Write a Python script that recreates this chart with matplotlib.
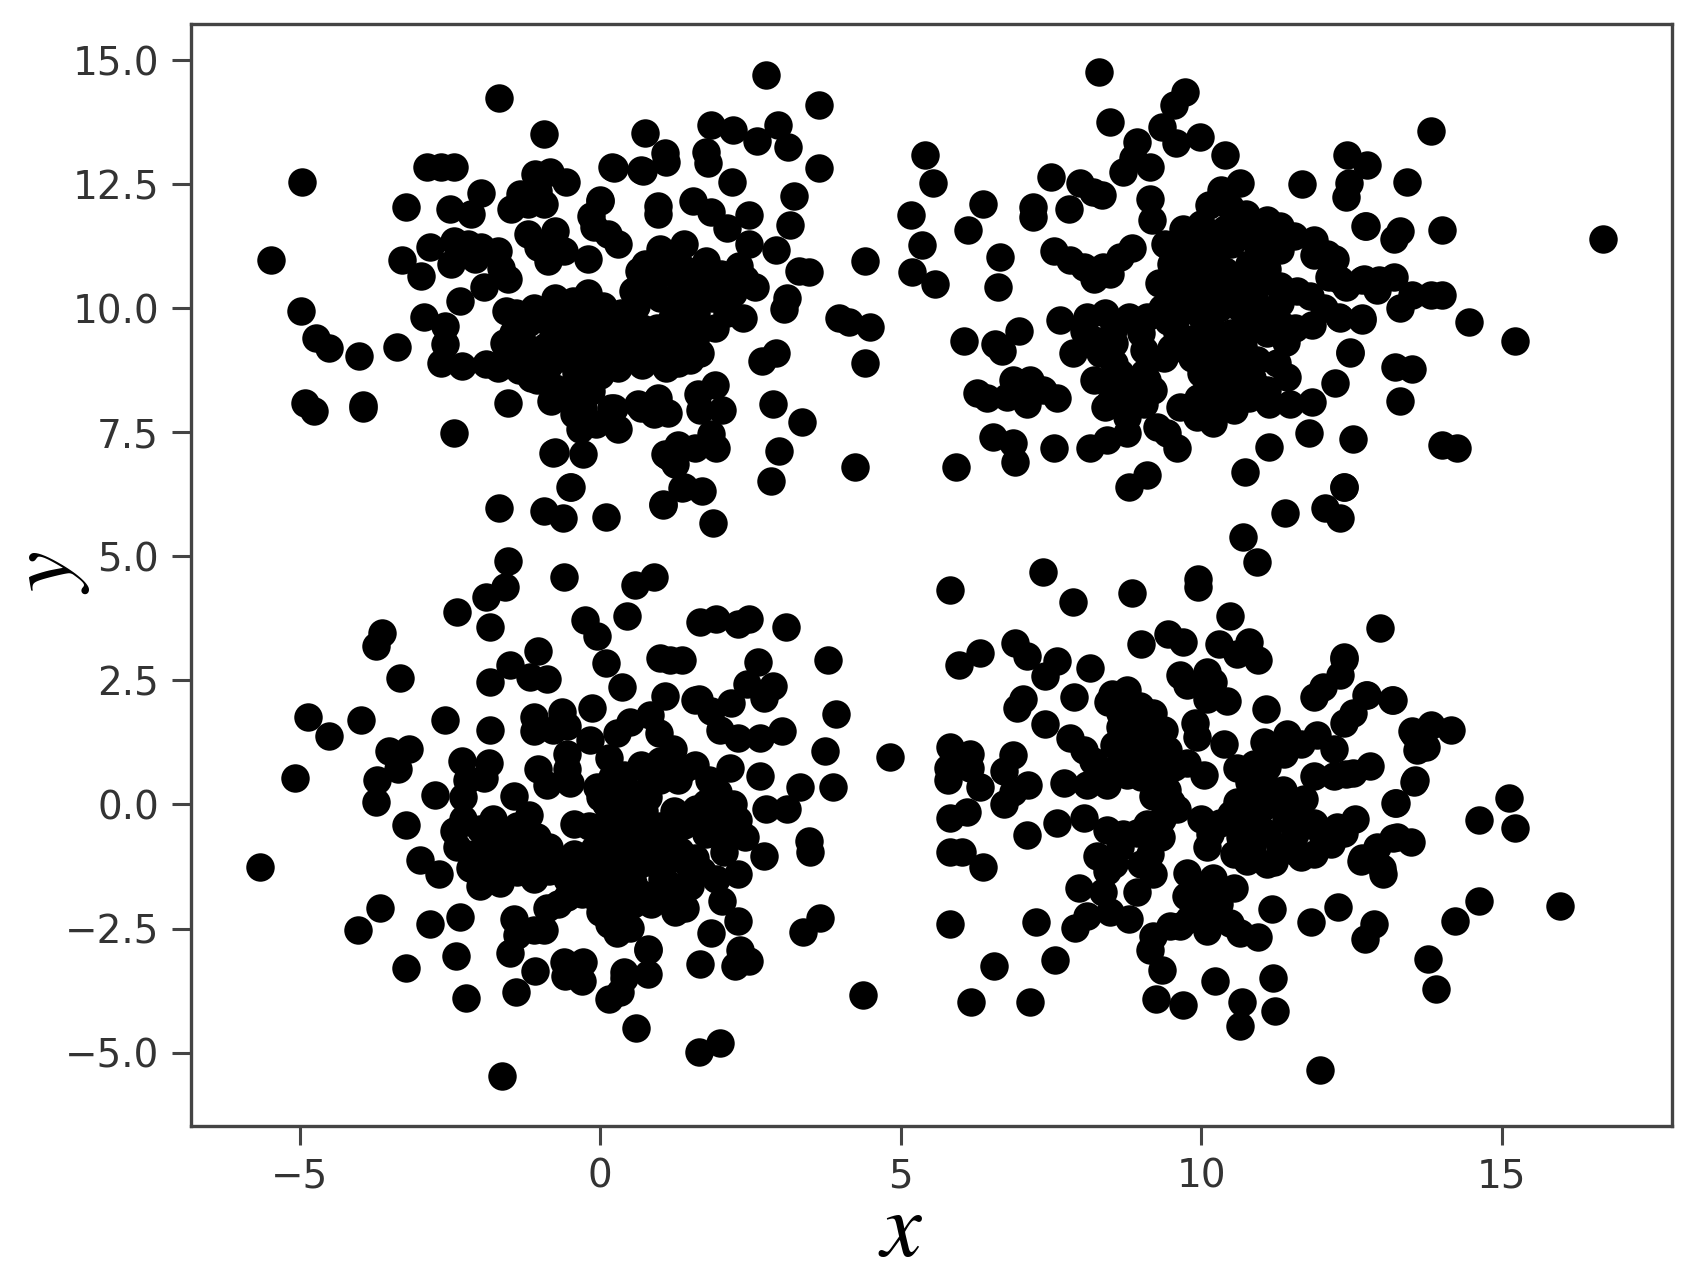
import matplotlib
matplotlib.use("Agg")
import matplotlib.pyplot as plt

x_ticks = [-5, 0, 5, 10, 15]
y_ticks = [-5.0, -2.5, 0.0, 2.5, 5.0, 7.5, 10.0, 12.5, 15.0]

top_left = [
(-1.69,14.24),(-0.94,13.51),(0.75,13.53),(1.07,13.14),(1.1,12.94),(0.71,12.77),(0.19,12.84),(-2.88,12.84),(-2.65,12.84),(-2.43,12.84),
(-4.97,12.54),(-1.98,12.32),(-3.23,12.05),(-2.5,12.0),(-2.15,11.9),(0.96,12.07),(0.96,11.9),(-0.01,12.19),(-0.15,11.87),(-1.09,12.7),
(-0.84,12.74),(-0.57,12.54),(-1.34,12.3),(-1.04,12.37),(-1.48,12.0),(-1.2,12.1),(-0.93,12.1),(-1.2,11.5),(-0.76,11.56),(-1.04,11.23),
(-0.6,11.16),(-0.87,10.96),(-0.2,11.0),(0.13,11.5),(0.29,11.3),(-0.1,11.63),(-5.48,10.97),(-3.3,10.97),(-2.98,10.66),(-2.84,11.23),
(-2.48,10.9),(-2.2,11.3),(-2.43,11.36),(-1.98,11.23),(-1.7,11.16),(-2.09,11.0),(-1.65,10.82),(-1.54,10.59),(-1.93,10.42),(-2.34,10.14),
(-2.94,9.83),(-2.59,9.65),(-4.98,9.95),(-4.73,9.41),(-4.52,9.2),(-4.02,9.04),(-3.39,9.22),(-2.59,9.28),(-2.65,8.9),(-2.3,8.84),
(-1.9,8.88),(-1.57,9.01),(-1.57,9.95),(-4.92,8.09),(-4.77,7.93),(-3.95,8.05),(-3.95,8.0),(-1.54,8.09),(-2.44,7.48),(-0.75,7.11),
(-0.29,7.06),(-0.51,6.39),(-1.69,5.98),(-0.93,5.92),(-0.62,5.78),(0.09,5.8),(1.04,6.05),(-1.15,8.6),(-0.82,8.13),(-0.43,7.87),
(-0.07,7.67),(0.29,7.57),(0.9,7.87),(0.63,8.07),(0.96,8.2),(0.18,8.0),(1.07,7.06),(1.24,6.86),(1.4,6.4),(-1.4,9.9),
(-1.2,9.7),(-1.45,9.5),(-1.6,9.3),(-1.1,10.0),(-0.75,10.2),(-0.45,10.15),(-0.2,10.3),(-0.2,10.0),(-0.5,9.85),(-0.85,9.7),
(-1.2,9.2),(-0.9,9.25),(-1.0,8.9),(-1.05,8.55),(-0.6,9.4),(-0.35,9.3),(-0.6,9.0),(-0.4,8.7),(-0.75,8.4),(-0.2,8.45),
(-0.05,9.65),(0.15,9.4),(0.3,9.0),(0.05,8.9),(0.05,10.05),(0.35,9.9),(0.6,10.05),(0.7,9.6),(0.55,9.2),(0.85,9.2),
(0.95,9.6),(1.1,9.3),(1.2,9.8),(1.0,10.2),(0.75,10.5),(0.55,10.35),(0.75,10.9),(1.0,10.7),(1.2,10.95),(1.35,10.5),
(1.5,10.2),(1.4,9.75),(1.55,9.2),(2.75,14.7),(3.63,14.09),(1.84,13.7),(2.2,13.59),(2.95,13.7),(2.6,13.37),(3.13,13.26),
(1.75,13.15),(1.79,12.93),(3.63,12.82),(3.23,12.27),(2.19,12.54),(2.48,11.88),(3.16,11.68),(1.54,12.17),(1.84,11.95),(2.11,11.62),
(0.22,12.82),(0.67,12.78),(0.0,12.17),(2.93,11.18),(3.47,10.74),(2.48,11.3),(2.3,10.85),(2.57,10.42),(1.75,10.96),(1.39,11.29),
(3.1,10.2),(3.05,9.98),(2.37,9.8),(2.93,9.1),(2.69,8.93),(3.97,9.8),(4.14,9.72),(4.48,9.63),(4.41,8.9),(4.41,10.96),
(2.87,8.07),(3.36,7.7),(2.98,7.13),(2.84,6.52),(4.23,6.8),(1.9,8.45),(1.63,8.27),(2.02,7.96),(1.66,7.96),(1.84,7.46),
(1.93,7.18),(1.57,7.18),(1.12,7.02),(1.3,7.24),(1.66,9.1),(1.03,9.06),(1.36,6.37),(1.7,6.32),(1.05,6.04),(1.88,5.67),
(0.94,8.16),(0.67,8.0),(1.12,7.9),(-0.33,7.57),(-0.29,8.0),(0.22,8.0),(-0.78,7.09),(-0.49,6.39),(1.0,11.2),(1.4,10.8),
(1.7,10.5),(2.0,10.7),(2.2,10.3),(1.85,10.2),(1.6,9.9),(2.4,10.6),(1.25,10.2),(3.3,10.75),(0.65,10.75),
(0.3,8.8),(0.7,8.85),(1.1,8.8),(1.3,8.9),(0.0,8.65),(-0.3,8.6),(-0.15,8.34),(-0.5,8.3),(-1.35,8.75),(-1.7,8.8),
(-0.85,8.85),(-0.25,9.0),(0.2,9.3),(1.9,9.6),(1.6,9.45),(2.1,9.9),(1.3,9.4),(1.5,8.95),(0.1,9.7),(-0.35,9.6),
(0.35,9.55),(-0.1,9.25),
]

top_right = [
(8.29,14.77),(9.73,14.35),(9.54,14.09),(9.34,13.65),(8.48,13.75),(9.57,13.33),(9.98,13.46),(8.93,13.36),(10.4,13.09),(12.42,13.09),
(12.76,12.89),(12.45,12.52),(12.4,12.25),(11.675,12.5),(5.4,13.09),(5.53,12.53),(8.87,13.02),(9.15,12.84),(8.7,12.74),(7.5,12.65),
(7.98,12.52),(8.35,12.29),(8.2,12.35),(7.79,12.0),(6.36,12.1),(7.2,12.05),(7.2,11.85),(5.17,11.88),(6.11,11.58),(5.36,11.28),
(9.15,12.2),(9.18,11.78),(10.65,12.53),(10.32,12.39),(10.12,12.08),(10.48,12.05),(12.73,11.65),(6.65,11.04),(6.61,10.42),(5.19,10.74),
(5.57,10.48),(7.54,11.16),(7.82,10.97),(8.04,10.84),(8.21,10.6),(8.48,10.7),(8.65,11.04),(8.85,11.21),(8.37,10.84),(7.65,9.76),
(8.1,9.83),(8.4,9.9),(8.8,9.83),(9.1,9.83),(6.96,9.54),(6.57,9.29),(6.68,9.13),(6.05,9.35),(7.87,9.09),(8.21,9.36),
(8.54,9.3),(9.04,9.16),(8.54,8.9),(8.32,9.09),(9.37,9.0),(8.21,8.56),(8.65,8.69),(9.04,8.69),(6.26,8.29),(6.43,8.19),
(6.87,8.56),(7.15,8.56),(6.76,8.22),(7.1,8.08),(7.37,8.35),(7.6,8.19),(8.4,8.02),(8.82,8.15),(9.04,8.08),(6.54,7.41),
(6.87,7.28),(6.9,6.91),(7.55,7.18),(5.92,6.81),(8.15,7.18),(8.43,7.35),(8.76,7.48),(8.76,7.8),(9.26,7.61),(9.6,7.18),
(9.43,7.48),(8.79,6.4),(9.1,6.64),(10.73,6.71),(11.13,7.21),(11.79,7.48),(12.52,7.37),(12.37,6.4),(12.06,5.97),(12.3,5.77),
(11.39,5.87),(10.69,5.4),(10.93,4.88),(10.2,7.68),(9.93,7.8),(10.54,7.95),(9.65,8.02),(10.2,8.08),(11.12,8.08),(11.48,8.08),
(11.84,8.12),(11.43,8.62),(12.23,8.5),(10.93,8.42),(10.65,8.42),(12.48,9.11),(11.4,9.33),(11.84,9.66),(12.04,10.0),(12.3,9.8),
(12.67,9.76),(11.59,10.34),(11.3,10.1),(10.93,8.96),(12.3,10.57),(12.7,10.6),(12.92,10.37),(12.09,11.1),(11.87,11.38),(11.87,11.07),
(12.12,10.64),(11.09,11.78),(11.3,11.65),(11.54,11.45),(11.3,11.18),(10.87,11.38),(9.4,11.3),(9.7,11.6),(10.0,11.4),(9.5,10.9),
(9.85,10.8),(10.2,11.0),(10.5,11.3),(10.8,10.9),(11.1,10.8),(9.3,10.5),(9.6,10.4),(9.95,10.3),(10.25,10.5),(10.55,10.5),
(10.9,10.4),(9.35,10.0),(9.65,9.9),(10.0,9.85),(10.3,10.0),(10.65,10.0),(10.95,10.05),(9.6,9.5),(9.9,9.4),(10.2,9.55),
(10.5,9.5),(10.85,9.6),(11.1,9.5),(9.85,9.0),(10.15,8.9),(10.45,9.0),(10.7,8.85),(10.1,8.45),(10.4,8.35),(10.85,8.6),
(12.95,10.57),(13.5,10.26),(13.82,10.26),(14.0,10.26),(13.3,10.0),(13.2,10.63),(12.68,10.57),(14.0,11.58),(13.2,11.4),(13.3,11.55),
(13.42,12.54),(13.82,13.57),(12.74,11.66),(14.45,9.72),(15.21,9.34),(16.69,11.4),(13.22,8.82),(13.5,8.77),(13.31,8.14),(12.47,9.1),
(14.0,7.24),(14.25,7.18),(12.38,6.39),(12.68,9.8),(12.29,9.83),(12.41,10.42),(12.01,11.07),(12.23,11.0),
(8.55,9.6),(9.0,9.5),(8.05,9.55),(8.6,8.4),(8.95,8.4),(8.5,8.15),(9.2,8.35),(9.1,8.55),(9.75,9.15),(10.35,9.25),
(10.7,9.25),(10.05,9.2),(9.5,9.2),(9.45,9.75),(9.8,10.05),(10.15,10.2),(10.45,10.25),(10.75,10.25),(10.1,10.7),(10.4,10.75),
(10.7,10.7),(9.65,11.1),(9.95,11.1),(10.25,11.3),(10.0,11.7),(10.4,11.6),(10.7,11.55),(10.75,11.9),(11.0,11.3),(11.0,10.5),
(11.3,10.45),(11.2,9.8),(11.35,9.65),(11.25,8.9),(11.55,9.6),(11.8,10.25),(10.0,8.7),(10.3,8.6),(10.6,8.6),(10.8,8.2),
(9.95,8.2),(11.1,8.35),
]

bottom_left = [
(-1.54,4.9),(-1.58,4.39),(-1.9,4.18),(-2.39,3.87),(-1.83,3.57),(-0.6,4.59),(0.58,4.42),(0.9,4.59),(0.44,3.8),(-3.64,3.46),
(-3.74,3.2),(-3.33,2.54),(-0.25,3.71),(-0.06,3.39),(0.1,2.85),(0.36,2.36),(1.0,2.95),(1.16,2.92),(1.36,2.92),(1.08,2.18),
(1.64,2.13),(1.66,3.67),(-1.04,3.1),(-1.5,2.81),(-1.84,2.47),(-1.17,2.56),(-0.89,2.52),(-4.87,1.77),(-4.52,1.38),(-3.98,1.71),
(-2.59,1.71),(-1.84,1.51),(-1.11,1.77),(-0.64,1.87),(-0.14,1.95),(-1.11,1.48),(-0.78,1.51),(-0.56,1.59),(-5.08,0.54),(-3.52,1.08),
(-3.19,1.12),(-3.36,0.72),(-3.72,0.5),(-3.74,0.05),(-2.75,0.2),(-3.23,-0.41),(-2.3,0.87),(-1.86,0.83),(-2.22,0.5),(-1.94,0.54),
(-2.28,0.15),(-1.04,0.72),(-0.89,0.4),(-0.5,0.43),(-0.56,1.01),(-0.56,0.72),(-0.17,1.3),(0.14,0.94),(0.5,1.66),(0.83,1.8),
(0.97,1.44),(0.28,1.44),(0.67,0.79),(1.0,0.87),(1.39,0.72),(-1.44,0.18),(-1.19,-0.21),(-2.44,-0.54),(-2.39,-0.86),(-2.28,-0.29),
(-3.0,-1.11),(-2.69,-1.4),(-5.66,-1.26),(-0.44,-0.39),(-0.19,-0.43),(-3.67,-2.09),(-4.03,-2.52),(-2.84,-2.41),(-2.34,-2.27),(-2.4,-3.06),
(-3.23,-3.29),(-2.24,-3.91),(-1.44,-2.3),(-1.11,-2.52),(-1.5,-2.99),(-0.94,-2.52),(-1.39,-2.63),(-1.09,-3.36),(-1.4,-3.78),(-0.61,-3.17),
(-0.28,-3.17),(-0.58,-3.45),(-0.31,-3.56),(0.8,-2.91),(0.8,-3.42),(0.39,-3.49),(0.33,-3.78),(0.14,-3.92),(0.59,-4.5),(1.64,-4.99),
(-1.64,-5.47),(-0.7,-2.01),(-0.89,-2.09),(0.28,-2.59),(0.5,-2.48),(0.0,-2.16),(0.55,-2.01),(0.22,-1.87),(1.25,-2.16),(1.11,-1.94),
(1.41,-2.09),(-2.0,-1.65),(-1.67,-1.58),(-2.17,-1.29),(-1.89,-1.15),(-2.11,-1.0),(-1.39,-1.37),(-1.11,-1.51),(-0.78,-1.15),(-0.44,-1.0),
(-0.56,-1.51),(-1.78,-0.29),(-1.39,-0.43),(-1.67,-0.79),(-1.06,-0.65),(-1.11,-1.0),(0.0,0.15),(0.28,0.29),(0.05,-0.43),(0.33,-0.29),
(0.72,-0.14),(1.0,-0.43),(1.22,-0.14),(0.83,-0.79),(0.5,-0.86),(0.11,-1.0),(0.33,-1.29),(0.77,-1.15),(1.33,-0.93),(1.5,-1.29),
(1.11,-1.58),(0.05,-1.65),(0.55,-1.58),(-0.22,-1.51),(3.09,3.57),(3.78,2.91),(2.62,2.87),(2.87,2.39),(2.73,2.14),(1.93,3.74),
(2.29,3.63),(2.48,3.74),(3.92,1.82),(3.74,1.07),(3.87,0.35),(4.82,0.96),(3.02,1.49),(2.66,1.33),(2.29,1.33),(1.99,1.51),
(1.57,2.1),(1.84,1.88),(2.17,2.04),(2.44,2.43),(3.32,0.35),(2.66,0.57),(2.15,0.74),(1.57,0.79),(3.11,-0.09),(2.75,-0.09),
(3.47,-0.74),(3.49,-0.96),(2.73,-1.03),(3.65,-2.28),(3.38,-2.56),(2.29,-1.4),(2.29,-2.34),(1.84,-2.6),(2.33,-2.93),(2.48,-3.15),
(2.24,-3.26),(1.66,-3.22),(4.37,-3.83),(1.99,-4.81),(0.79,-2.93),(0.4,-3.37),(2.02,-0.63),(1.75,0.02),(2.29,-0.31),(1.57,-1.07),
(2.02,-1.95),(1.3,-2.06),(1.03,-1.51),(1.93,-1.51),(1.39,-0.42),(0.85,0.46),(1.21,1.12),(0.4,0.6),(0.6,-0.5),(-0.1,-0.9),
(-2.0,-0.5),(-1.9,-0.8),(-1.6,-1.1),(-1.3,-0.85),(-1.5,-0.6),(-0.85,-0.85),(-1.85,-1.45),(-1.25,-1.2),(-0.85,-1.35),(-0.3,-1.2),
(-0.3,-1.8),(-0.55,-1.87),(-0.05,0.35),(0.2,0.55),(0.45,0.3),(0.1,0.0),(0.5,0.05),(0.8,0.15),(0.3,-0.6),(0.05,-0.75),
(0.7,-0.5),(0.95,-0.9),(1.1,-1.15),(1.2,-0.6),(0.3,-1.0),(0.6,-1.25),(-0.1,-1.25),(0.1,-1.3),
(1.0,0.5),(1.3,0.5),(0.2,-1.7),(0.4,-2.1),(0.7,-1.8),(0.15,-2.4),(0.85,-2.0),(-0.05,-1.9),(1.9,-0.3),
(1.75,-0.6),(2.05,-0.95),(1.7,-1.35),(2.2,0.0),(1.8,0.5),(1.6,-0.1),(2.4,-0.65),(1.95,0.25),(1.3,-1.75),(1.5,-1.65),
]

bottom_right = [
(5.81,4.32),(7.36,4.68),(7.86,4.09),(8.84,4.26),(9.94,4.55),(9.94,4.38),(10.48,3.79),(12.98,3.55),(8.99,3.24),(9.44,3.44),
(9.7,3.27),(10.29,3.24),(10.79,3.27),(10.95,2.92),(10.59,3.03),(6.32,3.06),(5.96,2.82),(6.9,3.26),(7.1,3.0),(7.6,2.89),
(7.4,2.58),(8.15,2.76),(9.65,2.61),(10.09,2.68),(10.2,2.47),(9.76,2.4),(10.43,2.09),(10.09,2.13),(12.37,2.94),(12.31,2.61),
(12.03,2.37),(11.87,2.16),(12.76,2.2),(13.17,2.11),(12.53,1.85),(12.37,1.64),(7.04,2.13),(6.93,1.95),(7.88,2.16),(7.4,1.62),
(8.51,2.23),(8.76,2.3),(8.45,2.06),(8.65,1.85),(8.98,1.99),(9.2,1.85),(8.87,1.64),(9.37,1.5),(8.65,1.57),(11.08,1.93),
(9.9,1.64),(9.93,1.36),(10.37,1.22),(7.82,1.33),(8.04,1.09),(8.2,0.88),(9.04,1.22),(8.93,0.88),(8.76,0.6),(8.43,0.39),
(8.09,0.39),(7.71,0.43),(11.04,1.26),(11.42,1.43),(11.92,1.4),(12.2,1.12),(11.37,1.02),(11.65,1.22),(13.53,1.43),(13.59,1.09),
(5.81,1.16),(6.15,1.02),(5.79,0.74),(6.15,0.74),(5.79,0.5),(6.32,0.36),(6.87,1.0),(6.71,0.67),(7.12,0.39),(6.87,0.25),
(6.71,0.0),(5.81,-0.27),(6.1,-0.16),(7.1,-0.61),(7.6,-0.37),(8.04,-0.27),(9.76,0.84),(10.04,0.6),(9.43,0.29),(9.2,0.18),
(9.59,-0.09),(9.37,0.6),(10.59,0.74),(10.87,0.81),(12.81,0.77),(12.53,0.63),(12.2,0.57),(11.87,0.57),(11.7,0.11),(13.23,0.02),
(13.53,0.46),(12.56,-0.3),(12.37,-0.58),(12.15,-0.79),(11.87,-1.0),(11.54,-0.93),(13.26,-0.65),(13.48,-0.75),(12.92,-0.86),(12.65,-1.13),
(13.03,-1.41),(5.82,-0.96),(6.01,-0.96),(6.36,-1.27),(10.87,0.18),(10.87,-0.3),(10.59,0.05),(11.2,0.05),(10.31,-0.37),(10.65,-0.65),
(11.09,-0.58),(11.09,-1.2),(11.87,-0.37),(10.09,-0.86),(10.76,-1.13),(10.54,-1.69),(10.2,-1.48),(8.43,-0.51),(8.93,-0.58),(9.32,-0.65),
(8.26,-1.03),(8.65,-0.86),(9.15,-1.0),(9.2,-1.41),(8.93,-1.76),(8.43,-1.34),(7.96,-1.69),(8.37,-1.76),(9.76,-1.38),(10.04,-1.69),
(9.93,-2.1),(10.15,-2.38),(10.09,-2.55),(10.48,-2.38),(10.65,-2.59),(10.94,-2.68),(11.17,-2.1),(11.82,-2.36),(12.27,-2.07),(12.87,-2.4),
(12.73,-2.71),(8.09,-2.24),(7.9,-2.49),(8.48,-2.17),(8.79,-2.31),(5.81,-2.4),(7.25,-2.36),(6.55,-3.25),(7.56,-3.14),(6.16,-3.98),
(7.15,-3.98),(9.2,-2.66),(9.48,-2.45),(9.15,-2.94),(9.34,-3.34),(9.24,-3.92),(9.69,-4.05),(10.23,-3.56),(11.19,-3.49),(10.68,-3.98),
(10.64,-4.46),(11.23,-4.16),(11.98,-5.36),(13.51,1.49),(13.82,1.6),(14.16,1.51),(13.73,1.16),(13.55,0.5),(15.12,0.13),(15.21,-0.48),
(14.62,-0.31),(14.62,-1.95),(15.97,-2.04),(14.22,-2.34),(13.77,-3.11),(13.91,-3.72),(12.38,2.98),(13.19,2.1),(12.74,2.2),(13.22,0.02),
(12.41,0.61),(13.19,-0.68),(12.68,-1.07),(13.0,-1.29),
(11.0,-0.1),(11.4,-0.3),(11.55,-0.6),(11.3,-0.85),(10.55,-1.0),(10.85,-0.85),(10.0,-0.3),(10.15,-0.6),
(11.6,-0.1),(11.35,0.3),(10.65,-0.35),(11.1,0.35),(12.0,-0.6),(12.25,-0.45),(11.65,-1.05),(11.2,-1.15),(10.2,-1.85),(10.3,-2.0),
(9.75,-1.85),(9.25,0.95),(9.55,0.75),(9.0,0.55),(9.5,0.05),(9.35,-0.3),(8.85,1.3),(9.1,1.55),(8.55,1.2),(8.9,1.1),
(9.2,1.2),(9.45,1.1),(8.6,0.75),(8.3,0.55),(8.7,-0.6),(9.1,-0.4),(8.55,-1.2),(9.0,-1.2),(9.85,-1.7),(10.3,-2.3),
(9.8,-2.3),(9.65,-2.45),(11.1,0.75),(10.5,-0.2),(10.8,0.45),
]

plt.rcParams["mathtext.fontset"] = "stix"
W, H = 1702, 1280
fig = plt.figure(figsize=(W / 100, H / 100), dpi=100)
ax = fig.add_axes([191 / W, 1 - 1126 / H, (1672 - 191) / W, (1126 - 24) / H])

for cluster in (top_left, top_right, bottom_left, bottom_right):
    ax.scatter([p[0] for p in cluster], [p[1] for p in cluster], s=420, c="black", linewidths=0)

ax.set_xlim(-6.81, 17.83)
ax.set_ylim(-6.48, 15.73)
ax.set_xticks(x_ticks)
ax.set_yticks(y_ticks)
ax.set_yticklabels([f"{v:.1f}".replace("-", "\u2212") for v in y_ticks])
ax.tick_params(labelsize=28, length=14, width=2.2, color="#444444", labelcolor="#333333", pad=9)
for s in ax.spines.values():
    s.set_linewidth(2.4)
    s.set_color("#444444")

ax.set_xlabel("$x$", fontsize=66)
ax.set_ylabel("$y$", fontsize=66)
ax.xaxis.set_label_coords(0.479, -0.094)
ax.yaxis.set_label_coords(-0.097, 0.502)
ax.xaxis.label.set_verticalalignment("center")
ax.yaxis.label.set_verticalalignment("center")

fig.savefig("out.png", dpi=100)
